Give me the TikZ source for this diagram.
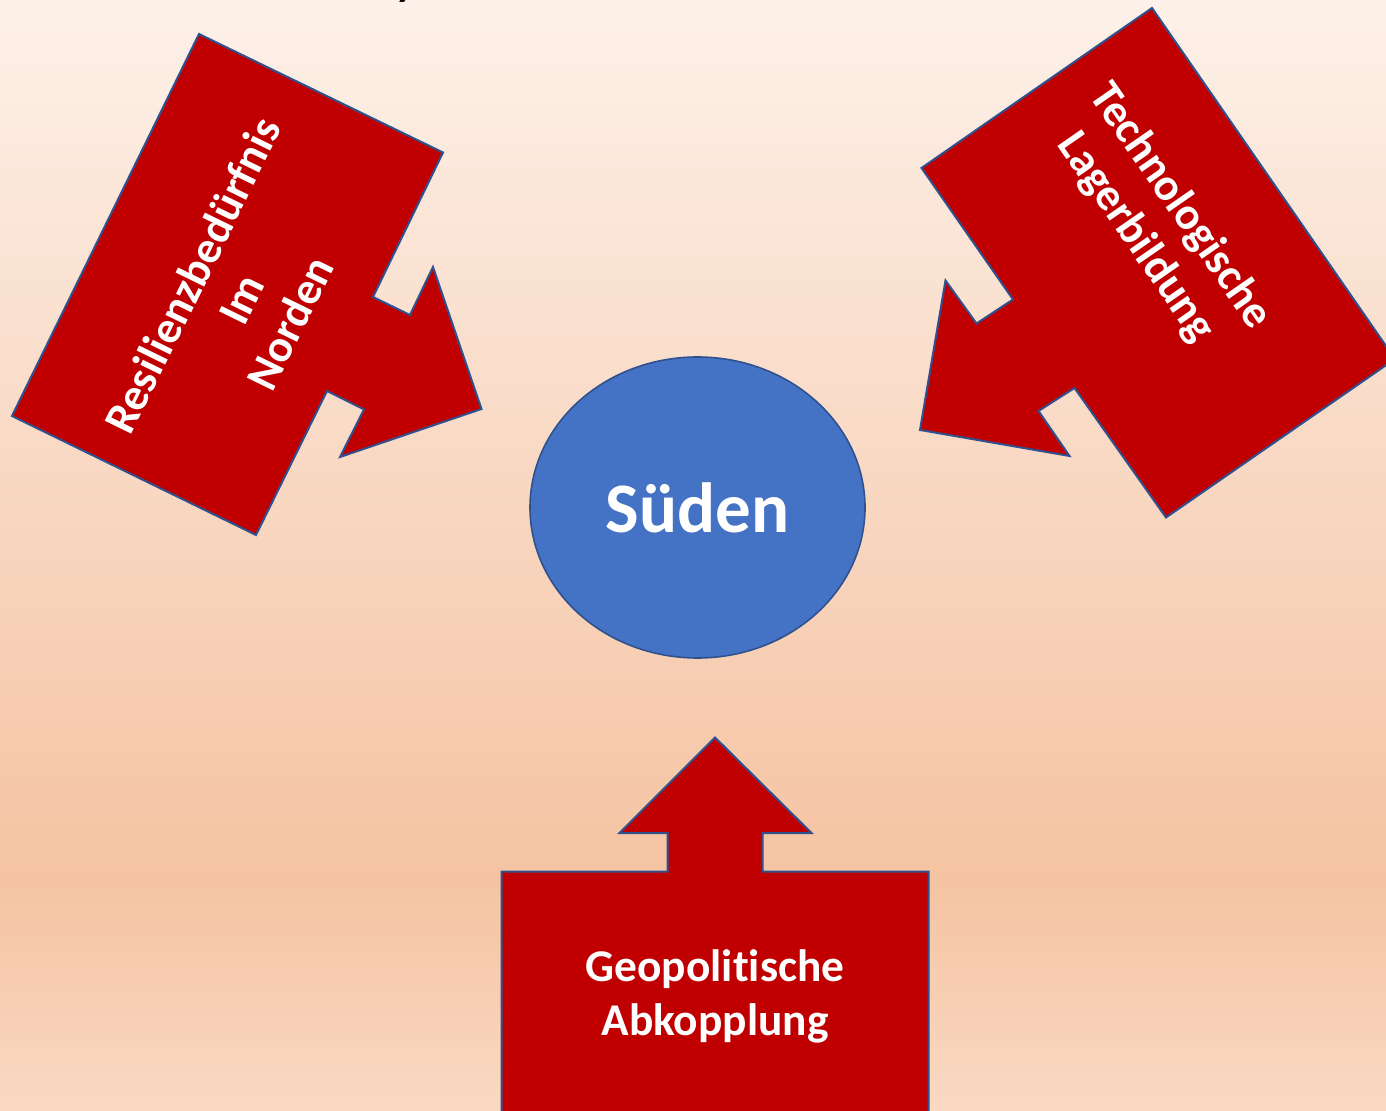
\documentclass[tikz,border=0pt]{standalone}
\usepackage{fontspec}
\setmainfont{Carlito}[Ligatures={NoCommon}]
\usetikzlibrary{shapes.geometric}
\definecolor{bgtop}{HTML}{FDF1E9}
\definecolor{bgmid}{HTML}{F5C3A2}
\definecolor{bgbot}{HTML}{FAD9C3}
\definecolor{arrred}{HTML}{C00000}
\definecolor{edgeblue}{HTML}{2F528F}
\definecolor{ellblue}{HTML}{4472C4}
\tikzset{
  bigarrow/.style={fill=arrred, draw=edgeblue, line width=1pt, line join=miter},
  arrowtext/.style={text=white, font=\bfseries\fontsize{22.7}{27}\selectfont, align=center, inner sep=0pt},
}
\begin{document}
\begin{tikzpicture}[x=0.5pt, y=-0.5pt]
\useasboundingbox (0,0) rectangle (1386,1111);
% background
\shade[top color=bgtop, bottom color=bgmid] (0,0) rectangle (1386,880);
\shade[top color=bgmid, bottom color=bgbot] (0,880) rectangle (1386,1112);
% cut-off glyph at top
\begin{scope}
\clip (0,0) rectangle (1386,1111);
\node[anchor=base west, inner sep=0pt, font=\bfseries\itshape\fontsize{22}{26}\selectfont] (topy) at (397,-4) {y};
\end{scope}
% left arrow
\filldraw[bigarrow] (199,34) -- (443,152.5) -- (373,297) -- (410,315) -- (433,267) -- (481.5,409) -- (340,457) -- (364,409.5) -- (327,391) -- (256,535) -- (12,416) -- cycle;
\node[arrowtext, rotate=63.9] (left) at (241,299) {Resilienzbedürfnis\\Im\\Norden};
% right arrow
\filldraw[bigarrow] (921.5,168) -- (1152,8) -- (1395,359) -- (1166,517.5) -- (1074.5,388) -- (1038.5,411) -- (1069.5,456) -- (920,430) -- (945.5,280.5) -- (976.5,323.5) -- (1013,299.5) -- cycle;
\node[arrowtext, rotate=-55.3] (right) at (1158,222) {Technologische\\Lagerbildung};
% bottom arrow
\filldraw[bigarrow] (715,737.5) -- (811.5,833) -- (762.5,833) -- (762.5,871.5) -- (928.5,871.5) -- (928.5,1125) -- (501.5,1125) -- (501.5,871.5) -- (667.5,871.5) -- (667.5,833) -- (619.5,833) -- cycle;
\node[arrowtext] (bottom) at (715,996) {Geopolitische\\Abkopplung};
% centre ellipse
\node[ellipse, fill=ellblue, draw=edgeblue, line width=0.8pt, minimum width=167.5pt, minimum height=150.5pt, inner sep=0pt, text=white, font=\bfseries\fontsize{35.5}{40}\selectfont] (sued) at (697.5,507.5) {Süden};
\end{tikzpicture}
\end{document}
